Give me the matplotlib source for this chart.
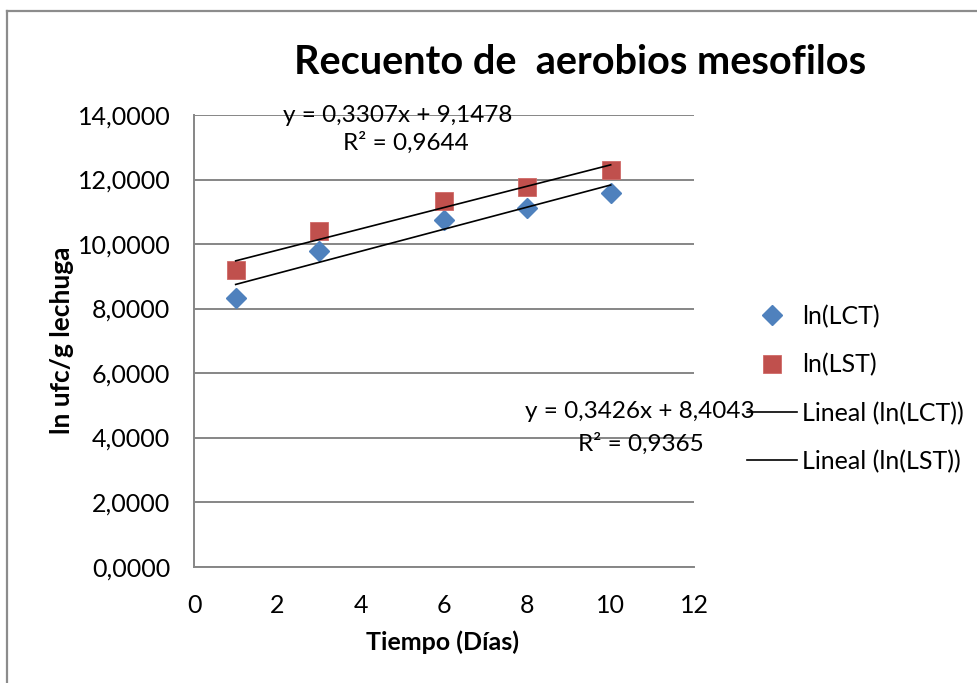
import matplotlib
matplotlib.use("Agg")
import matplotlib.pyplot as plt
from matplotlib.lines import Line2D
import numpy as np

plt.rcParams['font.family'] = ['Lato', 'DejaVu Sans']

# Days sampled and log counts for each treatment
dias = [1, 3, 6, 8, 10]
ln_lct = [8.33, 9.78, 10.74, 11.13, 11.59]
ln_lst = [9.18, 10.40, 11.32, 11.78, 12.30]

# Linear trend coefficients (slope, intercept, R²)
trend_lct = (0.3426, 8.4043, 0.9365)
trend_lst = (0.3307, 9.1478, 0.9644)

yticks = [0, 2, 4, 6, 8, 10, 12, 14]
xticks = [0, 2, 4, 6, 8, 10, 12]

W, H = 978, 683
fig = plt.figure(figsize=(W / 100, H / 100), dpi=100)
ax = fig.add_axes([194 / W, 1 - 566.6 / H, 500 / W, (566.6 - 115) / H])

blue = '#4F81BD'
red = '#C0504D'
grid = '#868686'

ax.set_xlim(0, 12)
ax.set_ylim(0, 14)
ax.set_yticks(yticks)
ax.set_xticks(xticks)
ax.set_yticklabels([f"{v:.4f}".replace('.', ',') for v in yticks], fontsize=18)
ax.set_xticklabels([str(v) for v in xticks], fontsize=18)
ax.tick_params(axis='y', length=0, pad=17)
ax.tick_params(axis='x', length=0, pad=20)
ax.grid(axis='y', color=grid, lw=1.4)
ax.set_axisbelow(True)
for s in ['top', 'right']:
    ax.spines[s].set_visible(False)
for s in ['left', 'bottom']:
    ax.spines[s].set_color(grid)
    ax.spines[s].set_linewidth(1.4)

ax.plot(dias, ln_lct, ls='none', marker='D', ms=10, color=blue, mec=blue, zorder=3)
ax.plot(dias, ln_lst, ls='none', marker='s', ms=13.5, color=red, mec='#D06A67', mew=0.6, zorder=3)

xr = np.array([dias[0], dias[-1]])
for m, b, _ in (trend_lct, trend_lst):
    ax.plot(xr, m * xr + b, color='black', lw=1.2, zorder=4)

def fmt(v):
    return f"{v:.4f}".replace('.', ',')

fig.text(398 / W, 1 - 116 / H, f"y = {fmt(trend_lst[0])}x + {fmt(trend_lst[1])}",
         ha='center', va='center', fontsize=17.5, zorder=5)
fig.text(406 / W, 1 - 143 / H, f"R² = {fmt(trend_lst[2])}",
         ha='center', va='center', fontsize=17.5, zorder=5)
fig.text(640 / W, 1 - 412 / H, f"y = {fmt(trend_lct[0])}x + {fmt(trend_lct[1])}",
         ha='center', va='center', fontsize=17.5, zorder=5)
fig.text(641 / W, 1 - 444 / H, f"R² = {fmt(trend_lct[2])}",
         ha='center', va='center', fontsize=17.5, zorder=5)

fig.text(443 / W, 1 - 642 / H, "Tiempo (Días)", ha='center', va='center',
         fontsize=18, fontweight='bold')
fig.text(62 / W, 1 - 340 / H, "ln ufc/g lechuga", ha='center', va='center',
         rotation=90, fontsize=19, fontweight='bold')

fig.text(580 / W, 1 - 62 / H, "Recuento de  aerobios mesofilos",
         ha='center', va='center', fontsize=28.5, fontweight='bold')

handles = [
    Line2D([], [], ls='none', marker='D', ms=10, color=blue),
    Line2D([], [], ls='none', marker='s', ms=13.5, color=red, mec='#D06A67', mew=0.6),
    Line2D([], [], color='black', lw=1.2),
    Line2D([], [], color='black', lw=1.2),
]
labels = ['ln(LCT)', 'ln(LST)', 'Lineal (ln(LCT))', 'Lineal (ln(LST))']
fig.legend(handles, labels, loc='center left', bbox_to_anchor=(747 / W, 1 - 389 / H),
           frameon=False, fontsize=18, handlelength=2.0, handletextpad=0.2,
           labelspacing=1.0, borderaxespad=0, borderpad=0)

# Outer chart border (left and top edges)
fig.add_artist(Line2D([7.5 / W, 7.5 / W], [0, 1 - 10.5 / H], transform=fig.transFigure,
                      color='#8C8C8C', lw=1.6))
fig.add_artist(Line2D([7.5 / W, 1], [1 - 10.5 / H, 1 - 10.5 / H], transform=fig.transFigure,
                      color='#8C8C8C', lw=1.6))

fig.savefig('out.png', dpi=100)
